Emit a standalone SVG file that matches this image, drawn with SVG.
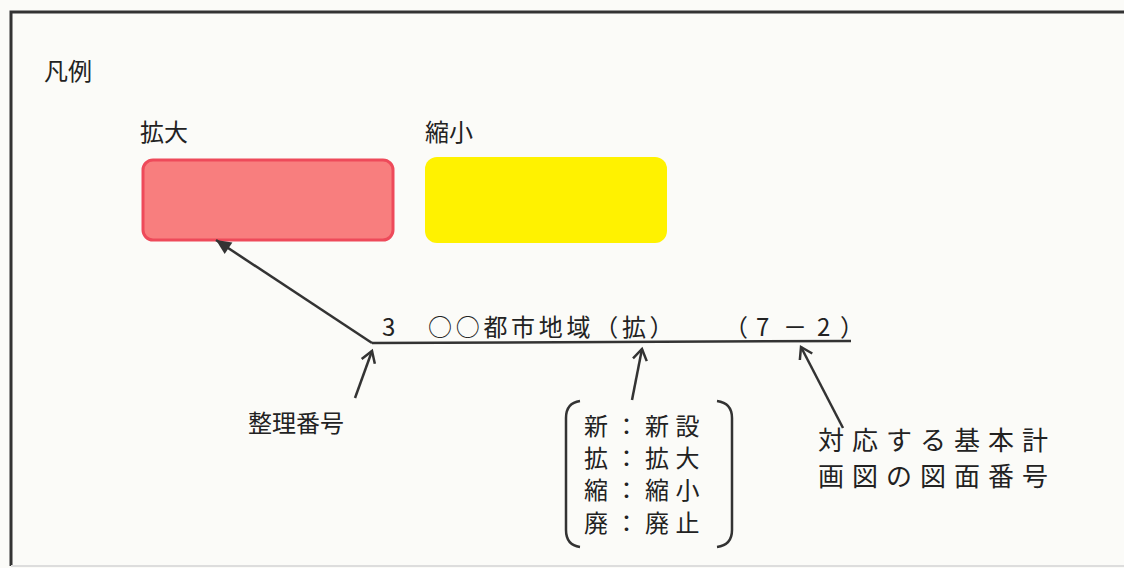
<svg xmlns="http://www.w3.org/2000/svg" width="1124" height="568" viewBox="0 0 1124 568">
<defs>
<style>
text{font-family:"Noto Sans CJK JP","Liberation Serif",sans-serif;fill:#222;}
.c{stroke:#333;stroke-width:2.5;fill:none;}
</style>
<marker id="open" markerWidth="16" markerHeight="16" refX="13" refY="8" orient="auto" markerUnits="userSpaceOnUse">
<path d="M2,1 L13,8 L2,15" fill="none" stroke="#333" stroke-width="2.5"/>
</marker>
<marker id="fill" markerWidth="18" markerHeight="16" refX="16" refY="8" orient="auto" markerUnits="userSpaceOnUse">
<path d="M1,1 L16,8 L1,15 Z" fill="#333"/>
</marker>
</defs>
<rect x="0" y="0" width="1124" height="568" fill="#FBFBF8"/>
<path d="M11,566 L11,12 L1124,12" fill="none" stroke="#333" stroke-width="3"/>
<line x1="11" y1="566" x2="1124" y2="566" stroke="#ddd" stroke-width="2"/>
<g id="legend-title"><text x="44" y="80" font-size="24">凡例</text></g>
<g id="expand">
<text x="140" y="141" font-size="24">拡大</text>
<rect x="143" y="160" width="250" height="80" rx="10" fill="#F87E7E" stroke="#EE4A5A" stroke-width="3"/>
</g>
<g id="shrink">
<text x="425" y="141" font-size="24">縮小</text>
<rect x="425" y="157" width="242" height="86" rx="12" fill="#FFF200"/>
</g>
<g id="label-line">
<text font-size="24"><tspan x="382" y="336">3</tspan><tspan x="428" y="336" letter-spacing="3.7">○○都市地域（拡）</tspan></text>
<text font-size="24" x="724 756 783 817 840" y="336">（7－2）</text>
</g>
<g id="seiri"><text x="248" y="432" font-size="24">整理番号</text></g>
<g id="types">
<path class="c" d="M580,401 Q566,403 566,418 L566,530 Q566,545 580,547"/>
<path class="c" d="M717,401 Q732,403 732,418 L732,530 Q732,545 717,547"/>
<text font-size="24" letter-spacing="6.5">
<tspan x="584" y="435">新：新設</tspan>
<tspan x="584" y="467">拡：拡大</tspan>
<tspan x="584" y="499">縮：縮小</tspan>
<tspan x="584" y="532">廃：廃止</tspan>
</text>
</g>
<g id="zumen"><text font-size="26" letter-spacing="8"><tspan x="818" y="450">対応する基本計</tspan><tspan x="818" y="486">画図の図面番号</tspan></text></g>
<g id="connectors">
<line class="c" x1="372" y1="343" x2="851" y2="341" stroke-width="3"/>
<line class="c" x1="372" y1="343" x2="216" y2="240" marker-end="url(#fill)"/>
<line class="c" x1="355" y1="398" x2="372" y2="351" marker-end="url(#open)"/>
<line class="c" x1="632" y1="400" x2="642" y2="349" marker-end="url(#open)"/>
<line class="c" x1="843" y1="428" x2="801" y2="347" marker-end="url(#open)"/>
</g>
</svg>
